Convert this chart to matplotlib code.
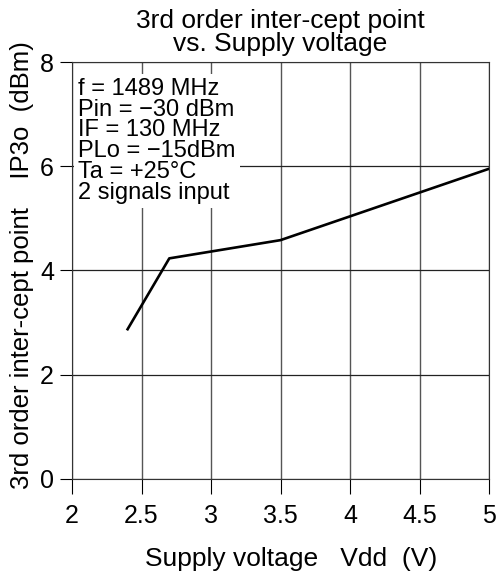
import matplotlib.pyplot as plt

plt.rcParams['font.family'] = ['Liberation Sans', 'DejaVu Sans']

# data
vdd = [2.4, 2.7, 3.5, 5.0]
ip3o = [2.87, 4.23, 4.58, 5.95]

x_ticks = [2, 2.5, 3, 3.5, 4, 4.5, 5]
x_labels = ["2", "2.5", "3", "3.5", "4", "4.5", "5"]
y_ticks = [0, 2, 4, 6, 8]

conditions = ["f = 1489 MHz", "Pin = \u221230 dBm", "IF = 130 MHz",
              "PLo = \u221215dBm", "Ta = +25\u00b0C", "2 signals input"]

fig = plt.figure(figsize=(5.03, 5.76), dpi=100)
ax = fig.add_axes([72 / 503, 1 - 478.7 / 576, 417 / 503, 416.7 / 576])

ax.set_xlim(2, 5)
ax.set_ylim(0, 8)
ax.set_xticks(x_ticks)
ax.set_xticklabels(x_labels)
ax.set_yticks(y_ticks)
ax.tick_params(axis='x', direction='out', length=11, width=0.8, labelsize=18, pad=7)
ax.tick_params(axis='y', direction='out', length=9, width=0.8, labelsize=18, pad=4)

ax.xaxis.grid(True, color='#555555', linewidth=1.0)
ax.yaxis.grid(True, color='#222222', linewidth=0.9)
ax.set_axisbelow(True)
for s in ax.spines.values():
    s.set_linewidth(0.8)
    s.set_color('#333333')

ax.plot(vdd, ip3o, color='black', linewidth=1.9, zorder=3)

ax.text(0.015, 0.962, "\n".join(conditions), transform=ax.transAxes,
        fontsize=17, va='top', ha='left', linespacing=0.93,
        bbox=dict(facecolor='white', edgecolor='none', pad=3), zorder=4)

ax.set_title("3rd order inter-cept point\nvs. Supply voltage", fontsize=19,
             linespacing=0.95, pad=8)
ax.set_xlabel("Supply voltage   Vdd  (V)", fontsize=19)
ax.xaxis.set_label_coords(0.525, -0.165)
ax.set_ylabel("3rd order inter-cept point    IP3o  (dBm)", fontsize=18.5)
ax.yaxis.set_label_coords(-0.092, 0.513)

fig.savefig("out.png", dpi=100)
